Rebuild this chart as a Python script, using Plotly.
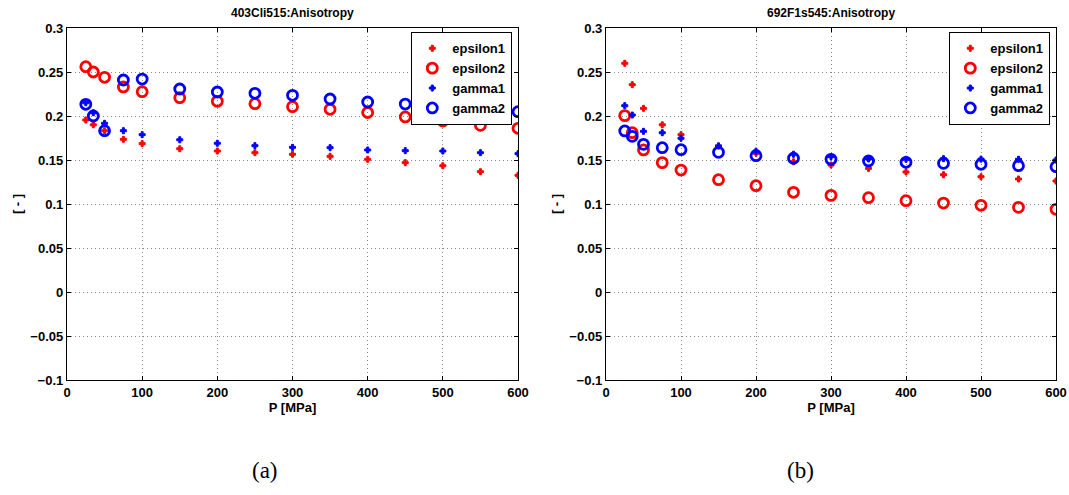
import plotly.graph_objects as go

pressure = [25, 35, 50, 75, 100, 150, 200, 250, 300, 350, 400, 450, 500, 550, 600]

# Panel (a) 403Cli515
a_eps1 = [0.1955, 0.190, 0.1833, 0.1735, 0.1686, 0.1628, 0.1602, 0.1583, 0.1565, 0.1542, 0.1508, 0.147, 0.1435, 0.1367, 0.1326]
a_eps2 = [0.256, 0.250, 0.244, 0.233, 0.2276, 0.2208, 0.2167, 0.214, 0.2106, 0.2076, 0.204, 0.1989, 0.1943, 0.1894, 0.186]
a_gam1 = [0.215, 0.2037, 0.1917, 0.1833, 0.1788, 0.173, 0.169, 0.1663, 0.1644, 0.164, 0.1614, 0.1606, 0.1602, 0.1583, 0.1572]
a_gam2 = [0.2133, 0.200, 0.1833, 0.2409, 0.242, 0.2307, 0.2273, 0.2258, 0.2235, 0.2193, 0.2159, 0.2136, 0.2106, 0.2072, 0.2049]

# Panel (b) 692F1s545
b_eps1 = [0.2599, 0.2356, 0.2087, 0.190, 0.1788, 0.1659, 0.1576, 0.148, 0.1443, 0.1405, 0.1364, 0.1333, 0.131, 0.1284, 0.1261]
b_eps2 = [0.2004, 0.181, 0.1614, 0.147, 0.1386, 0.1276, 0.1208, 0.1133, 0.1098, 0.1072, 0.1038, 0.1011, 0.0985, 0.0962, 0.094]
b_gam1 = [0.2117, 0.2011, 0.1826, 0.181, 0.1747, 0.166, 0.16, 0.1565, 0.1538, 0.1511, 0.1508, 0.1515, 0.151, 0.1508, 0.150]
b_gam2 = [0.183, 0.1769, 0.1678, 0.164, 0.1617, 0.1587, 0.1549, 0.152, 0.1508, 0.1489, 0.1474, 0.1462, 0.1451, 0.1435, 0.1424]

titles = ["403Cli515:Anisotropy", "692F1s545:Anisotropy"]
captions = ["(a)", "(b)"]
series_names = ["epsilon1", "epsilon2", "gamma1", "gamma2"]
series_colors = ["red", "red", "blue", "blue"]
x_ticks = [0, 100, 200, 300, 400, 500, 600]
y_ticks = [-0.1, -0.05, 0, 0.05, 0.1, 0.15, 0.2, 0.25, 0.3]
y_ticktext = ["\u22120.1", "\u22120.05", "0", "0.05", "0.1", "0.15", "0.2", "0.25", "0.3"]

W, H = 1069, 495
panels = [
    dict(data=[a_eps1, a_eps2, a_gam1, a_gam2], x0=67, x1=518, xa="x", ya="y", leg="legend", cap_x=265),
    dict(data=[b_eps1, b_eps2, b_gam1, b_gam2], x0=606, x1=1056, xa="x2", ya="y2", leg="legend2", cap_x=800),
]
top, bottom = 28, 380

fig = go.Figure()
font_main = "Liberation Sans, Arial, Helvetica"

for p in panels:
    for i, (name, vals) in enumerate(zip(series_names, p["data"])):
        star = (i % 2 == 0)
        if star:
            marker = dict(symbol="cross", size=5, color=series_colors[i], line=dict(width=1, color=series_colors[i]))
        else:
            marker = dict(symbol="circle-open", size=10, color=series_colors[i], line=dict(width=2.8, color=series_colors[i]))
        fig.add_trace(go.Scatter(x=pressure, y=vals, mode="markers", name=name, marker=marker,
                                 xaxis=p["xa"], yaxis=p["ya"], legend=p["leg"], showlegend=True))

ydom = [1 - bottom / H, 1 - top / H]
axis_common = dict(showline=True, linecolor="black", linewidth=1.3, mirror="ticks", ticks="inside", ticklen=4,
                   tickcolor="black", showgrid=True, gridcolor="#8a8a8a", griddash="1px,3px", gridwidth=1,
                   zeroline=False, automargin=False,
                   tickfont=dict(family=font_main, size=13, color="black", weight="bold"))
layout = dict(width=W, height=H, margin=dict(l=0, r=0, t=0, b=0, autoexpand=False),
              plot_bgcolor="white", paper_bgcolor="white",
              font=dict(family=font_main, color="black"))
for k, p in enumerate(panels):
    sfx = "" if k == 0 else str(k + 1)
    layout["xaxis" + sfx] = dict(axis_common, domain=[p["x0"] / W, p["x1"] / W], range=[0, 600],
                                 tickvals=x_ticks, ticktext=["<b>%d</b>" % v for v in x_ticks], anchor="y" + sfx,
                                 title=dict(text="<b>P [MPa]</b>", font=dict(size=13, weight="bold"), standoff=0))
    layout["yaxis" + sfx] = dict(axis_common, domain=ydom, range=[-0.1, 0.3], tickvals=y_ticks,
                                 ticktext=["<b>%s</b>" % t for t in y_ticktext], anchor="x" + sfx,
                                 title=dict(text="<b>[ - ]</b>", font=dict(size=13, weight="bold"), standoff=4))
    layout[p["leg"]] = dict(x=(p["x1"] - 6) / W, y=1 - (top + 4) / H, xanchor="right", yanchor="top",
                            bgcolor="white", bordercolor="black", borderwidth=1.3,
                            font=dict(family=font_main, size=13, color="black", weight="bold"), tracegroupgap=0,
                            itemwidth=30)
fig.update_layout(**layout)

annotations = []
for k, p in enumerate(panels):
    cx = (p["x0"] + p["x1"]) / 2 / W
    annotations.append(dict(text="<b>%s</b>" % titles[k], x=cx, y=1 - 13 / H, xref="paper", yref="paper",
                            showarrow=False, font=dict(family=font_main, size=12, color="black", weight="bold"),
                            xanchor="center", yanchor="middle"))
    annotations.append(dict(text=captions[k], x=p["cap_x"] / W, y=1 - 470 / H, xref="paper", yref="paper",
                            showarrow=False, font=dict(family="Liberation Serif, DejaVu Serif", size=23, color="black"),
                            xanchor="center", yanchor="middle"))
fig.update_layout(annotations=annotations)

fig.write_html("out.html")
